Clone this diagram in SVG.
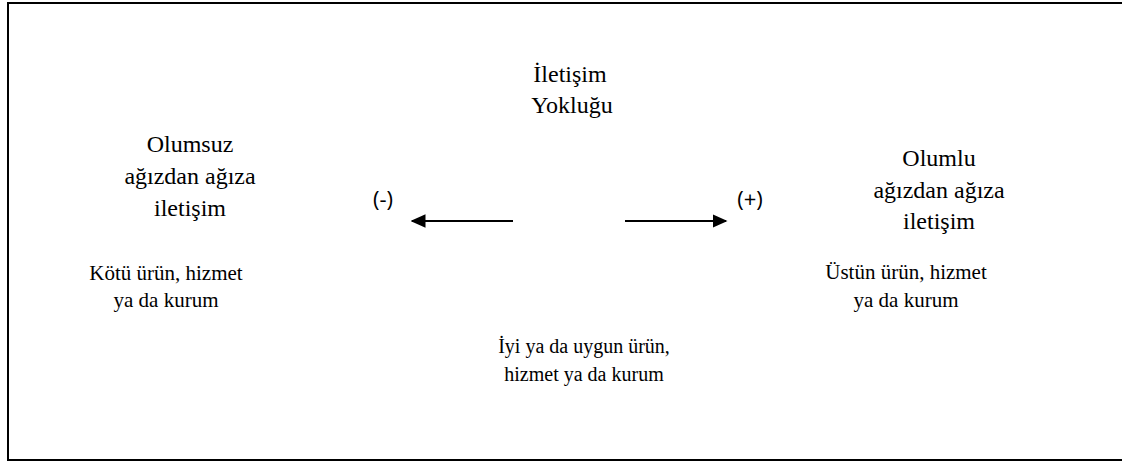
<svg xmlns="http://www.w3.org/2000/svg" width="1122" height="462" viewBox="0 0 1122 462">
<style>
.h{font-family:"Liberation Serif","Times New Roman",serif;font-size:24px;fill:#000;text-anchor:middle}
.s{font-family:"Liberation Serif","Times New Roman",serif;font-size:21px;fill:#000;text-anchor:middle}
.c{font-family:"Liberation Serif","Times New Roman",serif;font-size:20px;fill:#000;text-anchor:middle}
.sign{font-family:"Open Sans","Liberation Sans",sans-serif;font-size:22px;fill:#000;text-anchor:middle}
.conn{stroke:#000;stroke-width:2;fill:none}
</style>
<defs>
<marker id="ah" viewBox="0 0 10 10" refX="9" refY="5" markerWidth="15" markerHeight="15" orient="auto" markerUnits="userSpaceOnUse">
<path d="M0,0.5 L10,5 L0,9.5 z" fill="#000"/>
</marker>
</defs>
<rect x="0" y="0" width="1122" height="462" fill="#fff"/>
<rect x="8" y="3" width="1130" height="457" fill="none" stroke="#000" stroke-width="2"/>
<g id="negative">
<text class="h" x="190" y="152">Olumsuz</text>
<text class="h" x="190" y="184">ağızdan ağıza</text>
<text class="h" x="190" y="216">iletişim</text>
<text class="s" x="166" y="280">Kötü ürün, hizmet</text>
<text class="s" x="166" y="307">ya da kurum</text>
</g>
<g id="neutral">
<text class="h" x="570" y="82">İletişim</text>
<text class="h" x="572" y="113">Yokluğu</text>
<text class="c" x="584" y="353">İyi ya da uygun ürün,</text>
<text class="c" x="584" y="381">hizmet ya da kurum</text>
</g>
<g id="positive">
<text class="h" x="939" y="166">Olumlu</text>
<text class="h" x="939" y="198">ağızdan ağıza</text>
<text class="h" x="939" y="229">iletişim</text>
<text class="s" x="906" y="279">Üstün ürün, hizmet</text>
<text class="s" x="906" y="307">ya da kurum</text>
</g>
<g id="signs">
<text class="sign" x="383" y="207">(-)</text>
<text class="sign" x="750" y="207">(+)</text>
</g>
<g id="connectors">
<line class="conn" x1="513" y1="221" x2="412" y2="221" marker-end="url(#ah)"/>
<line class="conn" x1="625" y1="221" x2="726" y2="221" marker-end="url(#ah)"/>
</g>
</svg>
